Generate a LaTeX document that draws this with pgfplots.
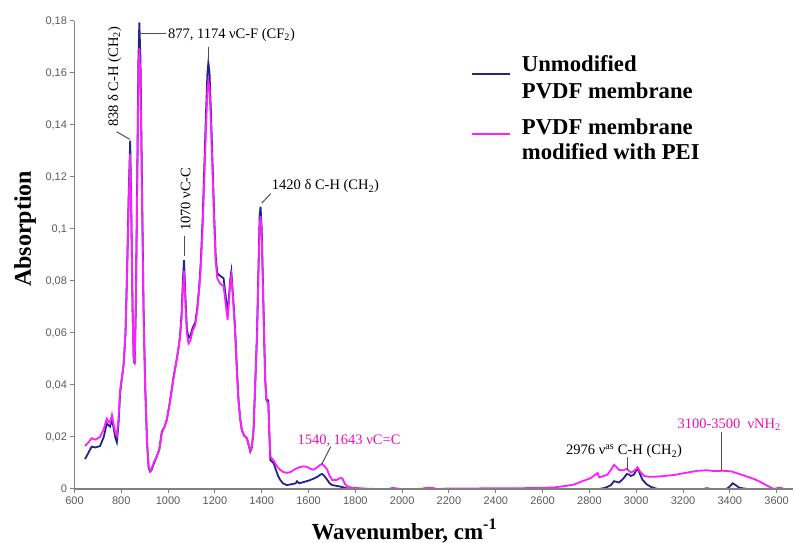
\documentclass[border=0pt]{standalone}
\usepackage{fontspec}
\setmainfont{Liberation Serif}
\newfontfamily\arialfont{Liberation Sans}
\usepackage{pgfplots}
\usepackage{pgfplotstable}
\pgfplotsset{compat=1.18}

\definecolor{unmod}{RGB}{36,36,140}
\definecolor{pei}{RGB}{255,30,255}
\definecolor{peitext}{RGB}{230,20,180}
\definecolor{axisgrey}{RGB}{128,128,128}
\definecolor{tickgrey}{RGB}{90,90,90}
\definecolor{leader}{RGB}{80,80,80}

\tikzset{
  annot/.style={font=\fontsize{14.5}{14.5}\selectfont, inner sep=0pt},
  lead/.style={draw=leader, line width=1pt},
  legtext/.style={anchor=base west, inner sep=0pt, font=\bfseries\fontsize{22.7}{22.7}\selectfont},
}

% unmodified PVDF membrane
\pgfplotstableread{
wn abs
645 0.0115
660 0.0140
673 0.0163
690 0.0160
709 0.0165
725 0.0200
738 0.0253
745 0.0245
752 0.0240
760 0.0270
768 0.0230
775 0.0195
781 0.0180
788 0.0250
795 0.0370
803 0.0430
810 0.0480
818 0.0600
825 0.0850
832 0.1150
838 0.1340
843 0.1050
848 0.0700
853 0.0500
857 0.0480
862 0.0700
868 0.1200
873 0.1650
877 0.1795
882 0.1650
888 0.1200
895 0.0700
902 0.0400
910 0.0180
917 0.0080
923 0.0067
930 0.0075
940 0.0100
951 0.0124
962 0.0150
973 0.0220
985 0.0240
994 0.0265
1005 0.0320
1015 0.0380
1023 0.0430
1030 0.0465
1037 0.0500
1045 0.0545
1051 0.0590
1058 0.0680
1063 0.0800
1068 0.0880
1073 0.0760
1080 0.0620
1087 0.0580
1095 0.0590
1105 0.0620
1116 0.0640
1125 0.0700
1133 0.0780
1140 0.0880
1148 0.1050
1155 0.1250
1162 0.1450
1168 0.1600
1172 0.1640
1177 0.1600
1183 0.1450
1190 0.1250
1197 0.1050
1203 0.0900
1210 0.0830
1222 0.0820
1237 0.0810
1245 0.0750
1254 0.0677
1260 0.0740
1266 0.0810
1270 0.0836
1276 0.0760
1282 0.0680
1287 0.0600
1294 0.0460
1301 0.0340
1308 0.0270
1315 0.0227
1325 0.0205
1337 0.0195
1344 0.0170
1351 0.0144
1358 0.0160
1365 0.0227
1372 0.0400
1380 0.0600
1386 0.0850
1391 0.1050
1395 0.1086
1400 0.1000
1405 0.0800
1410 0.0600
1415 0.0420
1420 0.0345
1428 0.0340
1433 0.0200
1437 0.0110
1445 0.0105
1451 0.0099
1460 0.0075
1470 0.0050
1479 0.0035
1490 0.0022
1508 0.0015
1525 0.0018
1537 0.0020
1545 0.0022
1551 0.0030
1560 0.0022
1580 0.0027
1600 0.0032
1622 0.0040
1640 0.0048
1650 0.0055
1658 0.0058
1668 0.0050
1680 0.0035
1690 0.0022
1701 0.0015
1720 0.0012
1737 0.0009
1750 0.0006
1765 0.0002
1780 0.0000
2840 0.0000
2860 0.0003
2877 0.0008
2892 0.0015
2905 0.0030
2915 0.0028
2927 0.0025
2945 0.0040
2960 0.0058
2970 0.0055
2977 0.0050
2990 0.0055
3006 0.0080
3015 0.0060
3027 0.0035
3045 0.0018
3063 0.0008
3080 0.0003
3092 0.0000
3290 0.0000
3300 0.0003
3320 0.0000
3385 0.0000
3398 0.0008
3412 0.0022
3425 0.0015
3440 0.0005
3460 0.0002
3475 0.0000
}\unmodified

% PVDF membrane modified with PEI
\pgfplotstableread{
wn abs
645 0.0165
660 0.0180
673 0.0195
690 0.0190
709 0.0200
725 0.0230
738 0.0270
745 0.0260
752 0.0255
760 0.0285
768 0.0245
775 0.0215
781 0.0205
788 0.0270
795 0.0380
803 0.0430
810 0.0480
818 0.0600
825 0.0840
832 0.1120
838 0.1290
843 0.1030
848 0.0700
853 0.0500
857 0.0490
862 0.0700
868 0.1150
873 0.1560
877 0.1695
882 0.1560
888 0.1150
895 0.0680
902 0.0390
910 0.0180
917 0.0085
923 0.0070
930 0.0080
940 0.0105
951 0.0125
962 0.0150
973 0.0215
985 0.0240
994 0.0265
1005 0.0320
1015 0.0375
1023 0.0425
1030 0.0460
1037 0.0500
1045 0.0545
1051 0.0585
1058 0.0660
1063 0.0770
1068 0.0840
1073 0.0730
1080 0.0600
1087 0.0560
1095 0.0570
1105 0.0610
1116 0.0630
1125 0.0690
1133 0.0770
1140 0.0860
1148 0.1020
1155 0.1200
1162 0.1390
1168 0.1530
1172 0.1570
1177 0.1540
1183 0.1400
1190 0.1210
1197 0.1020
1203 0.0880
1210 0.0810
1222 0.0790
1237 0.0780
1245 0.0720
1254 0.0650
1260 0.0720
1266 0.0800
1270 0.0820
1276 0.0750
1282 0.0670
1287 0.0590
1294 0.0450
1301 0.0335
1308 0.0270
1315 0.0225
1325 0.0205
1337 0.0195
1344 0.0170
1351 0.0148
1358 0.0165
1365 0.0230
1372 0.0400
1380 0.0590
1386 0.0830
1391 0.1010
1395 0.1050
1400 0.0970
1405 0.0780
1410 0.0590
1415 0.0415
1420 0.0340
1428 0.0330
1433 0.0210
1437 0.0125
1445 0.0115
1451 0.0110
1460 0.0095
1470 0.0082
1479 0.0074
1490 0.0066
1508 0.0062
1525 0.0066
1537 0.0074
1551 0.0080
1566 0.0085
1580 0.0087
1594 0.0085
1608 0.0078
1622 0.0074
1640 0.0085
1650 0.0093
1658 0.0096
1668 0.0088
1680 0.0074
1690 0.0050
1701 0.0035
1720 0.0035
1737 0.0043
1745 0.0040
1755 0.0020
1765 0.0010
1790 0.0004
1822 0.0003
1850 0.0001
1900 0.0000
1945 0.0000
1960 0.0005
1975 0.0002
2000 0.0000
2080 0.0000
2100 0.0004
2130 0.0004
2150 0.0000
2200 0.0002
2300 0.0002
2400 0.0003
2500 0.0003
2592 0.0004
2649 0.0006
2700 0.0012
2734 0.0017
2770 0.0030
2806 0.0042
2825 0.0055
2835 0.0062
2842 0.0045
2860 0.0050
2877 0.0055
2893 0.0075
2905 0.0093
2915 0.0085
2927 0.0073
2945 0.0072
2960 0.0078
2977 0.0063
2992 0.0070
3006 0.0083
3018 0.0065
3034 0.0050
3055 0.0047
3077 0.0047
3120 0.0050
3162 0.0054
3210 0.0062
3262 0.0070
3300 0.0072
3333 0.0069
3370 0.0070
3405 0.0068
3440 0.0058
3476 0.0047
3505 0.0038
3533 0.0026
3555 0.0015
3576 0.0005
3590 0.0000
3605 0.0004
3620 0.0004
3632 0.0000
}\modified

\begin{document}
\begin{tikzpicture}
\useasboundingbox (-74.5pt,-54pt) rectangle (720.5pt,489pt);
\begin{axis}[
    scale only axis,
    width=718.5pt, height=468pt,
    xmin=600, xmax=3670,
    ymin=0, ymax=0.18,
    axis lines*=left,
    axis on top,
    axis line style={draw=axisgrey, line width=1.5pt},
    tick align=outside,
    major tick length=4pt,
    tick style={draw=axisgrey, line width=1pt},
    xtick={600,800,1000,1200,1400,1600,1800,2000,2200,2400,2600,2800,3000,3200,3400,3600},
    ytick={0,0.02,0.04,0.06,0.08,0.1,0.12,0.14,0.16,0.18},
    scaled y ticks=false,
    ticklabel style={font=\arialfont\fontsize{11}{11}\selectfont, text=tickgrey},
    yticklabel style={/pgf/number format/fixed, /pgf/number format/precision=2},
    /pgf/number format/use comma,
    /pgf/number format/1000 sep={},
    /pgf/number format/assume math mode=true,
    xlabel={Wavenumber, cm\textsuperscript{-1}},
    xlabel style={at={(rel axis cs:0.459,0)}, anchor=base, yshift=-50pt,
        font=\bfseries\fontsize{23}{23}\selectfont},
    ylabel={Absorption},
    ylabel style={at={(rel axis cs:0,0.556)}, anchor=base, yshift=43.5pt,
        font=\bfseries\fontsize{24}{24}\selectfont},
    every axis plot/.append style={line width=1.8pt},
]
\addplot[unmod] table[x=wn, y=abs] {\unmodified};
\addplot[pei] table[x=wn, y=abs] {\modified};

% peak assignments
\node[annot, anchor=base west, rotate=90] at (axis cs:786,0.1392) {838 δ C-H (CH\textsubscript{2})};
\draw[lead] (axis cs:780,0.1374) -- (axis cs:836,0.1345);
\node[annot, anchor=base west] at (axis cs:999,0.1733) {877, 1174 νC-F (CF\textsubscript{2})};
\draw[lead] (axis cs:876,0.1753) -- (axis cs:993,0.1753);
\draw[lead] (axis cs:1172,0.1701) -- (axis cs:1172,0.1645);
\node[annot, anchor=base west, rotate=90] at (axis cs:1095,0.0992) {1070 νC-C};
\draw[lead] (axis cs:1072,0.0973) -- (axis cs:1072,0.0895);
\node[annot, anchor=base west] at (axis cs:1443,0.1150) {1420 δ C-H (CH\textsubscript{2})};
\draw[lead] (axis cs:1400,0.1099) -- (axis cs:1438,0.1136);
\node[annot, anchor=base west, text=peitext] at (axis cs:1552,0.0173) {1540, 1643 νC=C};
\draw[lead] (axis cs:1695,0.0163) -- (axis cs:1656,0.0095);
\node[annot, anchor=base west] at (axis cs:2700,0.0131) {2976 ν\textsuperscript{as} C-H (CH\textsubscript{2})};
\draw[lead] (axis cs:2962,0.0123) -- (axis cs:2962,0.0073);
\node[annot, anchor=base west, text=peitext] at (axis cs:3176,0.0234) {3100-3500\ \ νNH\textsubscript{2}};
\draw[lead] (axis cs:3365,0.0219) -- (axis cs:3365,0.0068);

% legend
\draw[unmod, line width=1.8pt] (rel axis cs:0.5528,0.8861) -- (rel axis cs:0.6061,0.8861);
\draw[pei, line width=1.8pt] (rel axis cs:0.5528,0.7579) -- (rel axis cs:0.6061,0.7579);
\node[legtext] at (rel axis cs:0.6224,0.8917) {Unmodified};
\node[legtext] at (rel axis cs:0.6224,0.8348) {PVDF membrane};
\node[legtext] at (rel axis cs:0.6224,0.7579) {PVDF membrane};
\node[legtext] at (rel axis cs:0.6224,0.7030) {modified with PEI};
\end{axis}
\end{tikzpicture}
\end{document}
